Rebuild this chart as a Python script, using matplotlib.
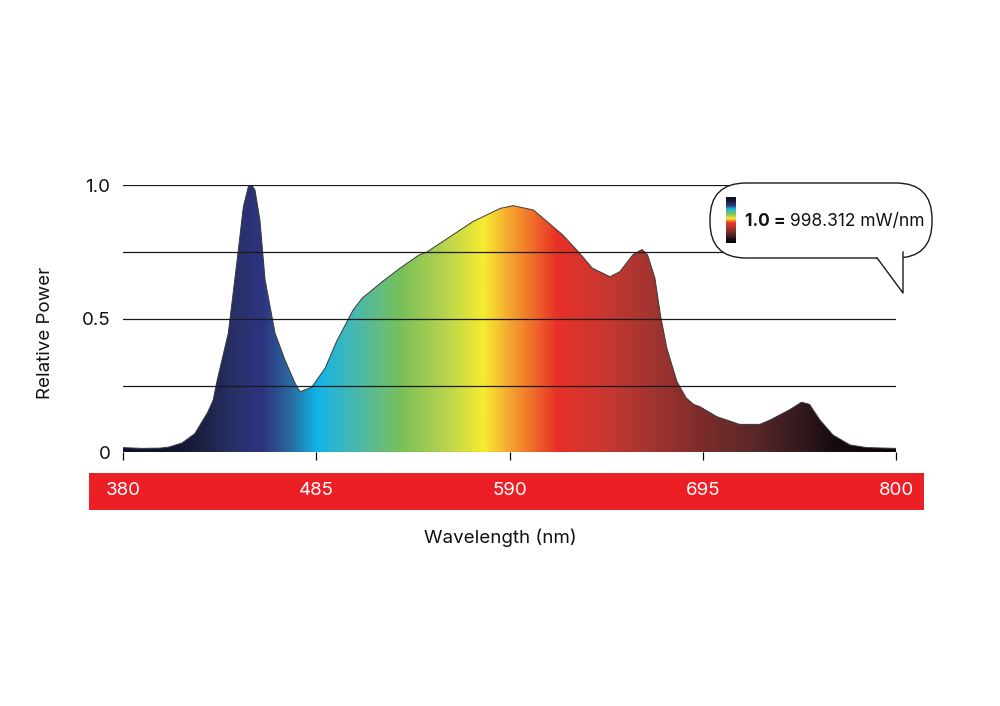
import numpy as np
import matplotlib
matplotlib.use("Agg")
import matplotlib.pyplot as plt
from matplotlib.colors import LinearSegmentedColormap
from matplotlib.patches import FancyBboxPatch, Polygon, Rectangle, PathPatch

plt.rcParams['font.family'] = ['Inter', 'DejaVu Sans']

# ---- data ----
wavelength = [380, 390, 400, 405, 412, 419, 426, 429, 431, 437.2, 441.8, 445.4, 448.1,
              450, 451.7, 454.4, 457.2, 462.6, 468, 473.5, 476.2, 482.5, 489.8, 496,
              505, 510, 521, 530.5, 541, 545, 570, 585, 592, 603, 619, 628, 635,
              644.6, 650, 657, 662, 665, 669, 672, 675.5, 681, 686, 690, 693.5, 702.6,
              715, 726, 731.5, 742, 748.7, 753, 758.7, 765.8, 775, 784, 800]
power = [0.018, 0.015, 0.016, 0.02, 0.035, 0.07, 0.15, 0.196, 0.265, 0.446, 0.708, 0.92, 0.995,
         1.0, 0.983, 0.87, 0.646, 0.447, 0.346, 0.259, 0.227, 0.244, 0.315, 0.415,
         0.533, 0.578, 0.64, 0.69, 0.74, 0.75, 0.864, 0.914, 0.924, 0.908, 0.814, 0.747, 0.69,
         0.658, 0.677, 0.74, 0.76, 0.74, 0.653, 0.515, 0.39, 0.265, 0.204, 0.18, 0.171, 0.134,
         0.105, 0.105, 0.121, 0.159, 0.188, 0.18, 0.121, 0.065, 0.028, 0.018, 0.015]
x_ticks = [380, 485, 590, 695, 800]
y_ticks = [0, 0.5, 1.0]
y_tick_labels = ["0", "0.5", "1.0"]
grid_levels = [0.25, 0.5, 0.75, 1.0]
x_label = "Wavelength (nm)"
y_label = "Relative Power"
legend_value = "998.312 mW/nm"

# spectrum colour stops (wavelength, colour)
spec_stops = [(380, "#0e1128"), (410, "#121630"), (422, "#1a2040"), (440, "#283068"),
              (456, "#2e3480"), (471, "#2a6aa0"), (485, "#10b4e8"), (503, "#40b8b8"),
              (517.5, "#60bc88"), (530.5, "#78c058"), (552, "#b0d050"), (576, "#f5ec30"),
              (588, "#f5b030"), (602, "#f07028"), (616, "#e83028"), (642, "#c83830"),
              (669, "#a03430"), (696, "#7a2c2a"), (723, "#5a2828"), (750, "#30181c"),
              (768, "#150a10"), (800, "#0a0508")]

FS = 13.5

# ---- figure ----
W, H = 1000, 706
fig = plt.figure(figsize=(10, 7.06), dpi=100)

# background overlay (pixel coords)
bg = fig.add_axes([0, 0, 1, 1])
bg.set_xlim(0, W)
bg.set_ylim(H, 0)
bg.axis('off')
bg.set_zorder(0)
bg.add_patch(Rectangle((89, 473), 835, 37, facecolor="#ec1f27", edgecolor="none"))

# main axes
x0px, x1px = 123, 896
y0px, y1px = 452.4, 185.4
ax = fig.add_axes([x0px / W, (H - y0px) / H, (x1px - x0px) / W, (y0px - y1px) / H])
ax.set_zorder(1)
ax.patch.set_visible(False)
ax.set_xlim(380, 800)
ax.set_ylim(0, 1)

lo, hi = 380, 800
cmap = LinearSegmentedColormap.from_list(
    "spec", [((w - lo) / (hi - lo), c) for w, c in spec_stops], N=512)

poly = ax.fill_between(wavelength, 0, power, facecolor="none", edgecolor="none")
grad = np.linspace(0, 1, 512).reshape(1, -1)
im = ax.imshow(grad, cmap=cmap, aspect='auto', extent=[380, 800, 0, 1.0],
               origin='lower', zorder=1, interpolation='bilinear')
path = poly.get_paths()[0]
clip = PathPatch(path, transform=ax.transData, facecolor='none', edgecolor='none')
ax.add_patch(clip)
im.set_clip_path(clip)
ax.plot(wavelength, power, color="#3a3a3a", lw=0.7, zorder=2)
ax.plot([380, 800], [0, 0], color="#555555", lw=0.8, zorder=2)

for g in grid_levels:
    ax.axhline(g, color="#1a1a1a", lw=0.9, zorder=3)

for s in ['top', 'right', 'left', 'bottom']:
    ax.spines[s].set_visible(False)

ax.set_xticks(x_ticks)
ax.set_xticklabels([str(t) for t in x_ticks])
ax.tick_params(axis='x', direction='out', length=6, width=0.9, color='black',
               labelcolor='white', labelsize=FS, pad=15)
ax.set_yticks(y_ticks)
ax.set_yticklabels(y_tick_labels)
ax.tick_params(axis='y', length=0, labelsize=FS, pad=9, labelcolor='#111111')

ax.set_xlabel(x_label, fontsize=FS, color='#111111')
ax.xaxis.set_label_coords((500 - x0px) / (x1px - x0px), (y0px - 538) / (y0px - y1px))
ax.xaxis.label.set_va('center')
ax.set_ylabel(y_label, fontsize=FS, color='#111111')
ax.yaxis.set_label_coords((45 - x0px) / (x1px - x0px), (y0px - 333) / (y0px - y1px))
ax.yaxis.label.set_va('center')

# top overlay: speech bubble legend
top = fig.add_axes([0, 0, 1, 1])
top.set_xlim(0, W)
top.set_ylim(H, 0)
top.axis('off')
top.set_zorder(3)
top.patch.set_visible(False)

bx0, by0, bx1, by1 = 710, 183, 932, 258
r = 36
bubble = FancyBboxPatch((bx0 + r, by0 + r), (bx1 - bx0) - 2 * r, (by1 - by0) - 2 * r,
                        boxstyle=f"round,pad={r},rounding_size={r}",
                        facecolor='white', edgecolor='#1a1a1a', lw=1.0)
top.add_patch(bubble)
top.add_patch(Polygon([(874, 250), (877, 257.5), (903, 293), (903, 248)],
                      closed=True, facecolor='white', edgecolor='none', zorder=3))
top.plot([877, 903, 903], [257.8, 293, 252], color='#1a1a1a', lw=1.0, zorder=4)

cb = np.linspace(0.12, 1, 256).reshape(-1, 1)
top.imshow(cb, cmap=cmap, aspect='auto', extent=[726, 736, 243, 197],
           origin='upper', zorder=4, interpolation='bilinear')
top.set_xlim(0, W)
top.set_ylim(H, 0)
t1 = top.text(745, 221, "1.0 = ", fontsize=12.5, fontweight='bold', va='center',
              ha='left', color='#111111', zorder=5)
fig.canvas.draw()
bb = t1.get_window_extent()
xend = top.transData.inverted().transform((bb.x1, bb.y0))[0]
top.text(xend, 221, legend_value, fontsize=12.5, va='center', ha='left',
         color='#111111', zorder=5)

fig.savefig("out.png", dpi=100)
